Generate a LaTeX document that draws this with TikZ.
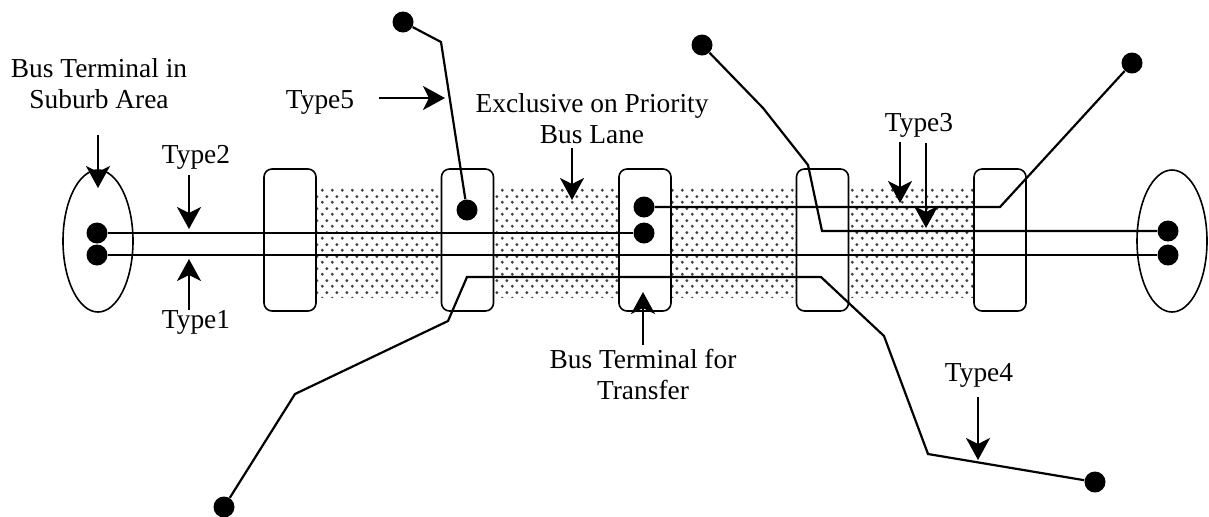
\documentclass[tikz,border=0pt]{standalone}
\usepackage{fontspec}
\setmainfont{Liberation Serif}
\usetikzlibrary{arrows.meta,shapes.geometric,patterns.meta}

\tikzdeclarepattern{name=busdots,type=uncolored,
  bounding box={(0pt,0pt) and (5pt,6pt)},tile size={(5pt,6pt)},
  code={\fill (1.25pt,1.5pt) circle (0.85pt);
        \fill (3.75pt,4.5pt) circle (0.85pt);}}

\begin{document}
\begin{tikzpicture}[x=0.5pt,y=-0.5pt,font=\fontsize{13.7}{15.5}\selectfont,
  route/.style={draw=black,line width=1.1pt},
  pointer/.style={-{Stealth[length=11pt,width=12pt,inset=3pt]},line width=1.1pt},
  stop/.style={circle,fill=black,minimum size=10.5pt,inner sep=0pt},
  terminal/.style={ellipse,draw,line width=0.8pt,minimum width=35pt,minimum height=71pt,inner sep=0pt},
  transfer/.style={draw,fill=white,rounded corners=4pt,line width=0.8pt,
    minimum width=26pt,minimum height=71pt,inner sep=0pt},
  label/.style={align=center,inner sep=0pt}]
\useasboundingbox (0,0) rectangle (1209,516);

% Exclusive lane band, stations drawn on top of it.
\path[pattern=busdots,pattern color=black!75] (316,187) rectangle (975,297);
\foreach \n/\x in {1/290,2/467.5,3/645,4/822.5,5/1000}
  \node[transfer] (st\n) at (\x,240) {};

% Suburb terminals at both ends.
\node[terminal] (termL) at (98,241) {};
\node[terminal] (termR) at (1172,241) {};

% Stops.
\node[stop] (Ls1) at (97,233) {};
\node[stop] (Ls2) at (97,255) {};
\node[stop] (Rs1) at (1168,231) {};
\node[stop] (Rs2) at (1168,255) {};
\node[stop] (T2) at (467,210) {};
\node[stop] (T3a) at (644,207) {};
\node[stop] (T3b) at (644,233) {};
\node[stop] (Pa) at (403,22) {};
\node[stop] (Pb) at (702,45) {};
\node[stop] (Pc) at (1132,63) {};
\node[stop] (Pd) at (224,507) {};
\node[stop] (Pe) at (1095,482) {};

% Route bends.
\coordinate (a1) at (441,42);
\coordinate (b1) at (822,231);
\coordinate (b2) at (808,165);
\coordinate (b3) at (763,108);
\coordinate (c1) at (1000,207);
\coordinate (d1) at (295,394);
\coordinate (d2) at (448,321);
\coordinate (d3) at (467,277);
\coordinate (d4) at (821,277);
\coordinate (d5) at (884,336);
\coordinate (d6) at (928,454);

% Bus routes.
\draw[route] (Ls1)--(T3b);
\draw[route] (Ls2)--(Rs2);
\draw[route] (Pa)--(a1)--(T2);
\draw[route] (Rs1)--(b1)--(b2)--(b3)--(Pb);
\draw[route] (T3a)--(c1)--(Pc);
\draw[route] (Pd)--(d1)--(d2)--(d3)--(d4)--(d5)--(d6)--(Pe);

% Labels and pointers.
\node[label] (lSub) at (99,84) {Bus Terminal in\\Suburb Area};
\coordinate (pSub) at (98,188);
\draw[pointer] (98,135) coordinate (qSub) -- (pSub);
\node[label] (lT2) at (196,157) {Type2};
\draw[pointer] (189,175) coordinate (qT2) -- (189,229) coordinate (pT2);
\node[label] (lT1) at (196,322) {Type1};
\draw[pointer] (189,310) coordinate (qT1) -- (189,259) coordinate (pT1);
\node[label] (lT5) at (320,102) {Type5};
\draw[pointer] (379,98) coordinate (qT5) -- (445,98) coordinate (pT5);
\node[label] (lLane) at (592,119) {Exclusive on Priority\\Bus Lane};
\draw[pointer] (572,148) coordinate (qLane) -- (572,200) coordinate (pLane);
\node[label] (lTr) at (643,374) {Bus Terminal for\\Transfer};
\draw[pointer] (643,345) coordinate (qTr) -- (643,292) coordinate (pTr);
\node[label] (lT3) at (919,125) {Type3};
\draw[pointer] (900,142) coordinate (qT3a) -- (900,203) coordinate (pT3a);
\draw[pointer] (926,143) coordinate (qT3b) -- (926,228) coordinate (pT3b);
\node[label] (lT4) at (979,375) {Type4};
\draw[pointer] (978,397) coordinate (qT4) -- (978,460) coordinate (pT4);
\end{tikzpicture}
\end{document}
